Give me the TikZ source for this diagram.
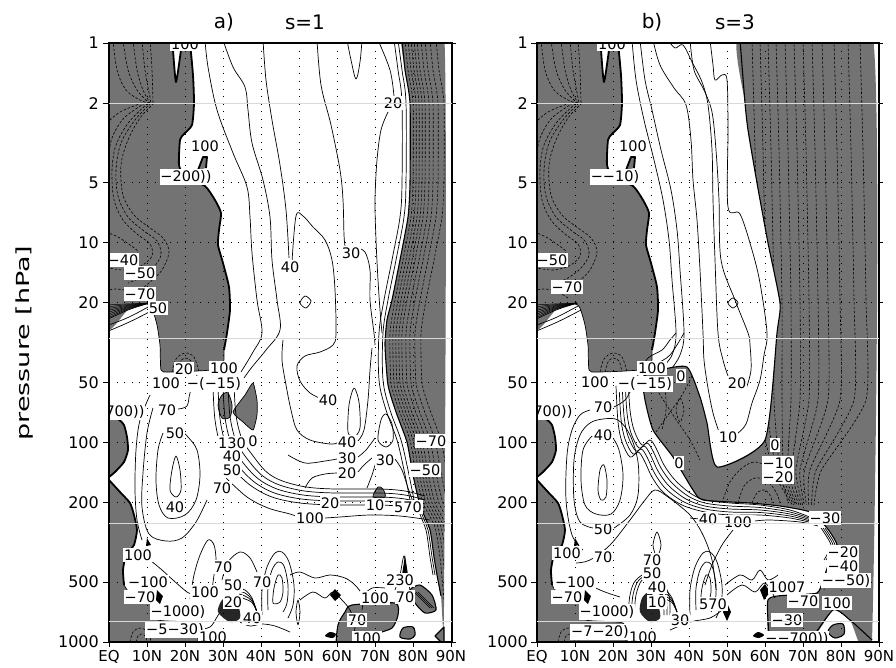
\documentclass[tikz,border=0pt]{standalone}
\usepackage{fontspec}
\setmainfont{DejaVu Sans}
\usepackage{graphicx}
\definecolor{grayfill}{RGB}{115,115,115}
\tikzset{
 cl/.style={line width=0.7pt, line join=round},
 dl/.style={line width=0.6pt, dash pattern=on 2.5pt off 1.8pt},
 zl/.style={line width=1.8pt, line join=round},
 bl/.style={line width=1.1pt, line join=round},
 grd/.style={line width=1pt, dash pattern=on 1pt off 6.6pt},
 lab/.style={fill=white, inner xsep=0.8pt, inner ysep=1.5pt, font=\fontsize{14.5}{14.5}\selectfont},
 tlab/.style={font=\fontsize{16}{16}\selectfont, inner sep=0pt},
 xlab/.style={font=\fontsize{15}{15}\selectfont, inner sep=0pt},
 ttl/.style={font=\fontsize{20}{20}\selectfont, inner sep=0pt},
 frm/.style={line width=1.3pt},
 sm/.style={smooth, tension=0.55},
 sh/.style={smooth, tension=0.35},
 gf/.style={fill=grayfill},
}
\def\pLU{plot[smooth cycle, tension=0.35] coordinates {(100,30) (172,30) (173,50) (176,82) (181,50) (182,30) (190,30) (193,75) (194,103) (192,125) (184,134) (180,140) (179,165) (185,177) (205,186) (215,200) (221,213) (219,230) (218,245) (223,263) (229,287) (230,310) (227,333) (224,350) (222,368) (197,371) (168,372) (161,370) (160,345) (157,325) (152,308) (147,304) (128,310) (100,322)}}
\def\pLS{plot[smooth cycle,tension=0.4] coordinates {(100,417)(118,419)(124,425)(127,437)(128,450)(124,462)(115,472)(100,478)}}
\def\pLL{plot[smooth cycle,tension=0.35] coordinates {(100,478)(109,480)(120,492)(130,503)(134,515)(137,530)(134,545)(126,555)(123,570)(124,585)(135,600)(155,605)(158,620)(195,623)(198,650)(100,650)}}
\newcommand\leftparts{%
 \fill[gf] \pLU; \fill[gf] \pLS; \fill[gf] \pLL;
 \begin{scope}
  \clip \pLU;
  \draw[dl] plot[sm] coordinates {(113,40)(117,70)(126,90)(140,100)(149,103)};
  \draw[dl] plot[sm] coordinates {(123,40)(128,70)(137,90)(149,103)};
  \draw[dl] plot[sm] coordinates {(133,40)(137,70)(143,90)(150,103)};
  \draw[dl] plot[sm] coordinates {(142,40)(145,70)(151,103)};
  \draw[dl] plot[sm] coordinates {(150,40)(152,70)(153,103)};
  \draw[dl] plot[sm] coordinates {(154,103)(140,118)(128,140)(121,165)(123,195)(134,215)(150,228)(163,238)(169,252)(162,270)(150,282)(138,292)};
  \draw[dl] plot[sm] coordinates {(151,103)(135,120)(121,143)(116,170)(118,196)(128,217)(144,231)(157,241)(161,255)(153,268)(140,278)(128,283)};
  \draw[dl] plot[sm] coordinates {(148,103)(129,122)(116,145)(112,170)(114,200)(123,220)(137,234)(150,244)(152,256)(141,266)(125,270)(109,268)};
  \draw[dl] plot[sm] coordinates {(145,103)(124,118)(112,138)(108,160)};
  \draw[dl] plot[sm] coordinates {(142,103)(120,112)(106,124)};
  \draw[dl] plot[sm] coordinates {(106,232)(118,237)(130,245)(138,252)(130,258)(110,257)};
  \draw[dl] plot[sm] coordinates {(140,298)(128,291)(115,289)(105,291)};
  \draw[dl] plot[sm] coordinates {(172,372)(176,359)(185,353)(194,357)(199,372)};
  \draw[dl] plot[sm] coordinates {(177,372)(180,362)(185,358)(191,361)(194,372)};
  \foreach \k in {0,...,7} \draw[line width=0.5pt] (106,{305+\k*2}) .. controls (125,{304+\k*0.8}) .. (149,303);
 \end{scope}
 \draw[zl] plot[sh] coordinates {(173,43)(173,50)(176,82)(181,50)(182,43)};
 \draw[zl] plot[sh] coordinates {(190,43)(193,75)(194,103)(192,125)(184,134)(180,140)(179,165)(185,177)(205,186)(215,200)(221,213)(219,230)(218,245)(223,263)(229,287)(230,310)(227,333)(224,350)};
 \draw[cl] plot[sh] coordinates {(224,350)(222,368)(197,371)(168,372)(161,370)(160,345)(157,325)(152,308)(147,304)(128,310)(106,320)};
 \draw[cl] (106,326) .. controls (128,318) .. (150,306);
 \draw[cl] (106,332) .. controls (130,322) .. (153,310);
 \draw[zl,gf] (198,170)--(203,157)--(207,157)--(206,168);
 \draw[zl] plot[sh] coordinates {(109,417)(118,419)(124,425)(127,437)(128,450)(124,462)(115,472)(109,477)};
 \draw[zl] plot[sh] coordinates {(109,480)(120,492)(130,503)(134,515)(137,530)(134,545)(126,555)(123,570)(124,585)};
 \draw[cl] plot[sh] coordinates {(124,585)(135,600)(155,605)(158,620)(195,623)(198,642)};
 \fill[black] (157,590)--(163,596)--(160,604)--(156,600)--cycle;
 \fill[black] (147,538)--(151,545)--(146,546)--cycle;
 \draw[dl] plot[sm] coordinates {(130,642)(133,632)(140,628)(148,632)(151,642)};
 \draw[dl] plot[sm] coordinates {(136,642)(138,636)(142,634)(146,637)(147,642)};
}
\def\pRa{plot[smooth cycle,tension=0.35] coordinates {(444,30)(444,606)(441,596)(437,575)(434,557)(430,530)(420,505)(413,475)(407,442)(396,412)(388,385)(385,345)(387,320)(392,300)(400,260)(408,217)(410,183)(410,103)(405,70)(402,30)}}
\def\pRb{plot[smooth cycle,tension=0.3] coordinates {(740,30)(872,30)(872,640)(850,620)(833,610)(807,646)(770,646)(768,600)(790,595)(817,593)(823,580)(830,560)(837,545)(827,528)(810,512)(780,506)(750,503)(703,500)(693,490)(673,457)(653,430)(645,400)(643,377)(660,370)(687,367)(700,397)(707,423)(717,467)(765,440)(777,333)(780,303)(768,243)(757,183)(748,130)(745,103)}}
\begin{document}
\begin{tikzpicture}[x=1pt,y=-1pt]
\useasboundingbox (0,0) rectangle (896,667);
\fill[white] (0,0) rectangle (896,667);
% ================= PANEL A =================
\begin{scope}
\clip (109,43) rectangle (452,642);
\leftparts
\fill[gf] \pRa;
\begin{scope}
 \clip \pRa;
 \foreach \d in {3,6,9,12,15,19,23,28,34}
  \draw[dl] plot[sh] coordinates {({402+\d},40)({405+\d},70)({410+\d},103)({410+\d},183)({408+\d},217)({400+\d},260)({392+\d},300)({387+\d},333)({388+\d},383)({396+\d},410)({407+\d},440)({413+\d},473)({420+\d},503)({432+\d},527)({437+\d},557)({441+\d},600)};
\end{scope}
\draw[bl] plot[sh] coordinates {(441,596)(437,575)(434,557)(430,530)(420,505)(413,475)(407,442)(396,412)(388,385)(385,345)(387,320)(392,300)(400,260)(408,217)(410,183)(410,103)(405,70)(402,40)};
\foreach \d in {2,4} \draw[cl] plot[sh] coordinates {({437-\d},575)({434-\d},557)({430-\d},530)({420-\d},505)};
% blobs
\draw[cl,gf] plot[smooth cycle,tension=0.5] coordinates {(218,405)(222,395)(228,393)(232,405)(230,417)(222,418)};
\draw[cl,gf] plot[smooth cycle,tension=0.3] coordinates {(233,412)(245,395)(253,383)(257,400)(257,415)(253,430)(243,422)};
\draw[cl,gf] plot[smooth cycle,tension=0.5] coordinates {(373,497)(378,487)(383,489)(385,497)};
\draw[bl,gf] plot[smooth cycle,tension=0.4] coordinates {(338,648)(338,625)(345,612)(352,605)(395,603)(398,615)(392,628)(375,635)(370,648)};
\draw[bl,gf] plot[smooth cycle,tension=0.5] coordinates {(400,637)(403,628)(413,627)(415,635)(410,639)};
\draw[bl,gf] (435,636)--(444,627)--(444,645)--cycle;
\fill[black] plot[smooth cycle] coordinates {(325,636)(330,632)(336,634)(333,638)};
\draw[bl,gf] plot[smooth cycle,tension=0.4] coordinates {(410,590)(420,585)(432,595)(436,610)(425,613)(415,603)};
\foreach \d in {0,2,4} \draw[cl] ({414+\d},592) -- ({430+\d},608);
\fill[black] (330,595)--(335,589)--(341,595)--(335,601)--cycle;
% upper solid contours
\draw[cl] plot[sm] coordinates {(205,40)(208,67)(217,110)(233,153)(247,187)(250,217)(252,253)(257,300)(262,333)(253,352)(241,372)};
\draw[cl] plot[sm] coordinates {(223,40)(233,67)(245,87)(248,110)(252,143)(263,180)(270,217)(272,260)(277,300)(280,330)(266,350)(252,367)(244,378)};
\draw[cl] plot[sm] coordinates {(263,40)(266,80)(272,120)(280,165)(286,210)(289,258)};
\draw[cl] plot[sm] coordinates {(292,262)(296,216)(303,216)(313,227)(325,240)(332,260)(335,290)(336,333)(333,345)(320,352)(305,356)(297,366)(300,381)(310,393)(322,399)};
\draw[cl] plot[sm] coordinates {(317,40)(321,85)(331,125)(340,170)(343,200)(344,235)(345,246)};
\draw[cl] plot[sm] coordinates {(357,248)(365,252)(370,270)(370,300)(374,333)(375,345)};
\draw[cl] plot[sm] coordinates {(347,40)(351,60)(356,79)(360,62)(362,40)};
\draw[cl] plot[sm] coordinates {(378,40)(390,70)(394,96)};
\draw[cl] plot[sm] coordinates {(388,112)(381,130)(377,160)(375,200)(376,240)(378,280)(380,310)(382,333)};
\draw[cl] plot[sm] coordinates {(398,40)(402,70)(406,103)(406,183)(404,217)(396,260)(388,300)(383,333)(383,380)(390,410)(401,440)(408,470)(414,500)};
\draw[cl] plot[sm] coordinates {(394,40)(398,70)(402,103)(402,183)(400,217)(392,260)(384,300)(379,333)(379,380)(386,410)(397,440)(404,470)(410,500)};
\draw[cl] plot[smooth cycle] coordinates {(300,303)(305,296)(311,301)(306,308)};
% middle dense lines
\foreach \dx/\dy in {0/0,5/-4,10/-8,15/-12,21/-16}
 \draw[cl] plot[sm] coordinates {({213+\dx},{387+\dy*0.2})({215+\dx},{420+\dy*0.3})({221+\dx},{447+\dy*0.5})({232+\dx},{467+\dy*0.7})({250+\dx*0.8},{485+\dy*0.8})({272+\dx*0.5},{497+\dy})({300+\dx*0.3},{503+\dy})({335},{505+\dy})({380},{505+\dy})({405},{507+\dy})({425},{512+\dy})};
\draw[cl] plot[sm] coordinates {(226,478)(247,497)(268,508)(290,514)(298,517)};
\draw[cl] plot[sm] coordinates {(325,518)(340,517)(370,515)(400,516)(430,520)};
\draw[cl] plot[sm] coordinates {(283,340)(282,360)(286,385)(291,410)(297,430)(310,440)(330,444)(337,443)};
\draw[cl] plot[sm] coordinates {(358,441)(364,430)(368,400)(370,370)(372,348)};
\draw[cl] plot[sm] coordinates {(288,455)(305,463)(325,461)(337,459)};
\draw[cl] plot[sm] coordinates {(358,457)(366,450)(375,438)};
\draw[cl] plot[sm] coordinates {(305,488)(312,478)(325,474)(337,473)};
\draw[cl] plot[sm] coordinates {(358,472)(364,465)(372,458)};
\draw[cl] plot[smooth cycle] coordinates {(348,432)(349,405)(354,388)(359,402)(360,428)(354,437)};
\draw[cl] plot[smooth cycle] coordinates {(378,440)(381,420)(386,414)(392,424)(393,440)(386,447)};
\fill (386,442) circle (1.2);
\draw[cl] plot[sm] coordinates {(367,488)(372,475)(375,465)};
\draw[cl] plot[sm] coordinates {(395,459)(402,470)(408,488)(413,502)};
% left lower loops
\draw[cl] plot[sm] coordinates {(153,408)(147,433)(143,473)(142,507)(149,534)(166,541)(182,538)(196,522)(207,500)};
\draw[cl] plot[sm] coordinates {(178,409)(187,406)(190,393)(197,375)};
\draw[cl] plot[sm] coordinates {(163,433)(158,450)(156,480)(159,505)(168,518)(185,515)(196,500)(200,475)(197,450)(188,437)(184,433)};
\draw[cl] plot[smooth cycle] coordinates {(170,490)(172,470)(176,456)(180,470)(181,490)(176,497)};
\draw[cl] plot[sm] coordinates {(150,395)(140,420)(136,450)(135,490)(137,520)(142,540)};
\draw[cl] plot[sm] coordinates {(150,560)(162,570)(173,580)(187,592)(193,594)};
\draw[cl] plot[sm] coordinates {(190,599)(194,575)(200,555)(208,540)(214,545)(216,560)(214,575)(212,590)};
\draw[cl] plot[sm] coordinates {(222,580)(228,562)(240,552)(250,558)(257,572)};
\draw[cl] plot[sm] coordinates {(197,630)(210,627)(217,617)(223,607)};
% 45N nested
\draw[cl] plot[sm] coordinates {(262,615)(262,590)(267,567)(275,553)(282,552)(289,562)(294,585)(293,605)(288,618)};
\draw[cl] plot[sm] coordinates {(268,610)(268,588)(272,570)(278,562)(284,566)(288,585)(287,603)(283,612)};
\draw[cl] plot[smooth cycle] coordinates {(273,603)(274,588)(278,575)(282,578)(283,592)(280,602)};
\foreach \k in {0,3,6,9} \draw[cl] plot[sm] coordinates {({236+\k*0.5},{588+\k})({245},{590+\k})({252},{598+\k*0.5})({257},{612})};
\fill[black!85] plot[smooth cycle] coordinates {(218,612)(222,600)(230,597)(238,605)(240,618)(230,622)};
\draw[cl] plot[sm] coordinates {(240,622)(250,626)(262,624)(275,626)(290,632)};
% bottom right lines
\draw[cl] plot[sm] coordinates {(290,575)(300,572)(315,578)(330,575)(345,578)(355,585)(363,595)};
\draw[cl] plot[sm] coordinates {(300,600)(313,592)(325,598)(333,592)(342,600)(350,610)(355,625)(352,642)};
\draw[cl] plot[smooth cycle] coordinates {(298,600)(300,612)(298,625)(296,612)};
\draw[cl] plot[sm] coordinates {(362,610)(365,595)(372,588)(385,588)};
\fill[black] (402,575)--(405,555)--(408,575)--cycle;
\draw[cl] plot[sm] coordinates {(395,590)(400,575)(404,556)(407,575)(410,590)};
% grid
\foreach \x in {147,185,223,261,299,337,375,413} \draw[grd] (\x,43) -- (\x,642);
\foreach \y in {103.1,182.6,242.7,302.8,382.3,442.4,502.5,582.0} \draw[grd] (109,\y) -- (452,\y);
% labels
\node[lab] (a01) at (185,44) {100};
\node[lab] (a02) at (205,146) {100};
\node[lab] (a03) at (186,177) {−200))};
\node[lab] (a04) at (123,260) {−40};
\node[lab] (a05) at (140,273) {−50};
\node[lab] (a06) at (140,294) {−70};
\node[lab] (a07) at (158,308) {50};
\node[lab] (a08) at (290,267) {40};
\node[lab] (a09) at (351,253) {30};
\node[lab] (a10) at (393,103) {20};
\node[lab] (a11) at (184,369) {20};
\node[lab] (a12) at (224,368) {100};
\node[lab] (a13) at (166,383) {100};
\node[lab] (a14) at (214,384) {−(−15)};
\node[lab] (a15) at (125,412) {700))};
\node[lab] (a16) at (167,410) {70};
\node[lab] (a17) at (175,433) {50};
\node[lab] (a18) at (232,443) {130};
\node[lab] (a19) at (253,441) {0};
\node[lab] (a20) at (232,456) {40};
\node[lab] (a21) at (232,470) {50};
\node[lab] (a22) at (222,488) {70};
\node[lab] (a23) at (175,507) {40};
\node[lab] (a24) at (328,400) {40};
\node[lab] (a25) at (347,442) {40};
\node[lab] (a26) at (347,458) {30};
\node[lab] (a27) at (347,473) {20};
\node[lab] (a28) at (385,460) {30};
\node[lab] (a29) at (431,441) {−70};
\node[lab] (a30) at (425,470) {−50};
\node[lab] (a31) at (330,503) {20};
\node[lab] (a32) at (375,505) {10};
\node[lab] (a33) at (408,507) {570};
\node[lab] (a34) at (310,518) {100};
\node[lab] (a35) at (138,555) {100};
\node[lab] (a36) at (148,582) {−100};
\node[lab] (a37) at (140,597) {−70};
\node[lab] (a38) at (205,592) {100};
\node[lab] (a39) at (223,567) {70};
\node[lab] (a40) at (233,585) {50};
\node[lab] (a41) at (262,582) {70};
\node[lab] (a42) at (233,602) {20};
\node[lab] (a43) at (252,618) {40};
\node[lab] (a44) at (178,612) {−1000)};
\node[lab] (a45) at (175,630) {−5−30)};
\node[lab] (a46) at (213,637) {100};
\node[lab] (a47) at (400,580) {230};
\node[lab] (a48) at (375,598) {100};
\node[lab] (a49) at (405,597) {70};
\node[lab] (a50) at (357,620) {70};
\node[lab] (a51) at (367,638) {100};
\end{scope}
\draw[frm] (109,43) rectangle (452,642);
% ================= PANEL B =================
\begin{scope}
\clip (537,43) rectangle (879,642);
\begin{scope}[xshift=428pt]
\leftparts
\end{scope}
\fill[gf] \pRb;
\begin{scope}
 \clip \pRb;
 \foreach \a in {752,760,768,776,785,794,803,812,822,834,848,860}
  \draw[dl] plot[sh] coordinates {(\a,40)({\a+3},150)({\a+6},300)({\a+6},400)({790+(\a-790)*0.45},470)({800+(\a-790)*0.2},505)};
 \draw[dl] plot[sm] coordinates {(722,503)(730,482)(742,468)(755,462)(770,468)(782,482)(788,503)};
 \draw[dl] plot[sm] coordinates {(738,503)(744,486)(755,478)(767,481)(776,492)(780,503)};
 \draw[dl] plot[sm] coordinates {(752,503)(757,493)(765,490)(771,497)(772,503)};
 \draw[dl] plot[sm] coordinates {(650,378)(662,398)(675,418)(690,440)(700,460)};
 \draw[dl] plot[sm] coordinates {(692,376)(682,395)(668,415)(656,432)};
 \draw[dl] plot[smooth cycle] coordinates {(676,410)(680,398)(684,410)(680,422)};
 \draw[dl] plot[sm] coordinates {(660,376)(665,390)(666,410)(662,430)};
 \draw[dl] plot[sm] coordinates {(820,560)(826,575)(824,590)};
\end{scope}
\draw[bl] plot[sh] coordinates {(872,640)(850,620)(833,610)(807,646)};
\draw[bl] plot[sh] coordinates {(770,646)(768,600)(790,595)(817,593)(823,580)(830,560)(837,545)(827,528)(810,512)(780,506)(750,503)(703,500)(693,490)(673,457)(653,430)(645,400)(643,377)(660,370)(687,367)(700,397)(707,423)(717,467)(765,440)(777,333)(780,303)(768,243)(757,183)(748,130)(745,103)(740,40)};
\draw[bl,gf] plot[smooth cycle,tension=0.5] coordinates {(828,632)(833,625)(843,624)(844,634)(835,638)};
\fill[black] plot[smooth cycle] coordinates {(753,636)(758,632)(764,635)(759,638)};
\foreach \d in {2,4,6} \draw[cl] plot[sh] coordinates {({827-\d},528)({837-\d},545)({830-\d},560)};
% upper solid lines b
\draw[cl] plot[sm] coordinates {(632,40)(636,80)(644,120)(654,160)(663,200)(669,240)(672,280)(676,333)(672,355)(662,368)};
\draw[cl] plot[sm] coordinates {(640,40)(645,80)(652,110)(661,150)(671,190)(677,230)(680,270)(684,333)(680,355)(672,368)};
\draw[cl] plot[sm] coordinates {(653,40)(660,65)(674,88)(686,105)(691,140)(693,180)(697,220)(700,270)(703,333)(704,360)(708,388)(713,413)(719,432)};
\draw[cl] plot[sm] coordinates {(738,433)(746,424)(752,403)(760,380)(764,355)(767,333)(760,283)(752,250)(740,214)(728,207)(728,130)(727,80)(722,75)(715,80)(713,65)(710,40)};
\draw[cl] plot[sm] coordinates {(668,40)(675,48)(683,45)(692,62)(702,82)(708,105)(712,150)(713,200)(715,260)(718,333)(723,360)(728,376)};
\draw[cl] plot[sm] coordinates {(746,389)(751,370)(750,345)(748,333)(735,300)(721,260)(719,200)(716,150)(712,112)(704,90)(694,70)(690,40)};
\draw[cl] plot[smooth cycle] coordinates {(728,303)(733,298)(738,303)(733,308)};
% middle diagonal family b
\foreach \k in {0,1,2,3,4}
 \draw[cl] plot[sm] coordinates {({628-3*\k},{378+2*\k})({630-3*\k},{410+3*\k})({634-3*\k},{430+3*\k})({642-3*\k},{445+3*\k})({650-3*\k},{440+3*\k})({656-3*\k},{448+3*\k})({664-3*\k},{465+3*\k})({675-3*\k},{480+3*\k})({690-2*\k},{493+3*\k})({705},{500+3*\k})({730},{503+3*\k})({760},{505+2.5*\k})({790},{510+2*\k})({812},{518+1.2*\k})};
\draw[cl] plot[sm] coordinates {(640,372)(648,358)(662,350)(670,340)(676,333)};
\draw[cl] plot[sm] coordinates {(645,376)(655,365)(670,355)(684,333)};
\draw[cl] plot[sm] coordinates {(690,518)(700,519)};
\draw[cl] plot[sm] coordinates {(755,521)(770,520)(800,522)(818,526)};
% left loops b
\draw[cl] plot[sm] coordinates {(590,410)(580,415)(572,430)(567,455)(566,500)(572,535)(583,550)};
\draw[cl] plot[sm] coordinates {(614,407)(625,400)(632,388)(638,375)};
\draw[cl] plot[sm] coordinates {(592,436)(583,450)(581,480)(585,505)(596,514)(611,514)(620,500)(623,475)(619,450)(613,438)};
\draw[cl] plot[sm] coordinates {(593,528)(580,522)(574,500)(574,460)(580,435)(590,423)(603,419)(618,420)(630,435)(638,462)(638,495)(630,515)(614,528)};
\draw[cl] plot[smooth cycle] coordinates {(598,490)(600,470)(604,465)(607,480)(606,497)(601,500)};
\draw[cl] plot[sm] coordinates {(576,563)(590,560)(610,545)(630,520)(645,500)(655,490)(668,497)(690,515)(703,535)(712,560)(716,590)};
\draw[cl] plot[sm] coordinates {(733,530)(722,545)(712,565)(705,585)};
\draw[cl] plot[sm] coordinates {(578,575)(590,585)(605,592)(620,597)};
\draw[cl] plot[smooth cycle] coordinates {(653,545)(657,532)(661,545)(657,557)};
% lower b
\begin{scope}[xshift=428pt]
\draw[cl] plot[sm] coordinates {(262,615)(262,590)(267,567)(275,553)(282,552)(289,562)(294,585)(293,605)(288,618)};
\draw[cl] plot[sm] coordinates {(268,610)(268,588)(272,570)(278,562)(284,566)(288,585)(287,603)(283,612)};
\draw[cl] plot[smooth cycle] coordinates {(273,603)(274,588)(278,575)(282,578)(283,592)(280,602)};
\end{scope}
\begin{scope}[xshift=420pt]
\foreach \k in {0,3,6,9} \draw[cl] plot[sm] coordinates {({236+\k*0.5},{588+\k})({245},{590+\k})({252},{598+\k*0.5})({257},{612})};
\fill[black!85] plot[smooth cycle] coordinates {(220,612)(222,598)(230,592)(238,605)(240,618)(230,622)};
\foreach \k in {0,3,6} \draw[cl] plot[sm] coordinates {({214-\k},618)({216-\k},595)({222-\k},580)({232},{578-\k})({242+\k},592)({244+\k},615)};
\end{scope}
\fill[black] (723,612)--(727,603)--(731,612)--(727,621)--cycle;
\draw[cl] plot[sm] coordinates {(725,585)(740,575)(752,580)(760,570)(768,580)(778,575)};
\draw[cl] plot[sm] coordinates {(727,595)(742,585)(755,592)(765,583)(775,598)};
\fill[black] (760,590)--(765,584)--(770,592)--(764,600)--cycle;
\draw[cl] plot[sm] coordinates {(670,630)(690,622)(710,618)(722,610)};
% grid b
\foreach \x in {575,613,651,689,727,765,803,841} \draw[grd] (\x,43) -- (\x,642);
\foreach \y in {103.1,182.6,242.7,302.8,382.3,442.4,502.5,582.0} \draw[grd] (537,\y) -- (879,\y);
% labels b
\node[lab] (b01) at (612,44) {100};
\node[lab] (b02) at (633,146) {100};
\node[lab] (b03) at (615,177) {−−10)};
\node[lab] (b04) at (552,260) {−50};
\node[lab] (b05) at (567,287) {−70};
\node[lab] (b06) at (652,368) {100};
\node[lab] (b07) at (681,376) {0};
\node[lab] (b08) at (595,382) {100};
\node[lab] (b09) at (645,384) {−(−15)};
\node[lab] (b10) at (737,383) {20};
\node[lab] (b11) at (553,412) {700))};
\node[lab] (b12) at (603,407) {70};
\node[lab] (b13) at (603,435) {40};
\node[lab] (b14) at (728,437) {10};
\node[lab] (b15) at (775,445) {0};
\node[lab] (b16) at (679,463) {0};
\node[lab] (b17) at (778,463) {−10};
\node[lab] (b18) at (778,477) {−20};
\node[lab] (b19) at (708,519) {40};
\node[lab] (b20) at (738,522) {100};
\node[lab] (b21) at (825,518) {−30};
\node[lab] (b22) at (603,529) {50};
\node[lab] (b23) at (567,553) {100};
\node[lab] (b24) at (603,557) {70};
\node[lab] (b25) at (652,560) {70};
\node[lab] (b26) at (652,573) {50};
\node[lab] (b27) at (657,587) {40};
\node[lab] (b28) at (657,602) {10};
\node[lab] (b29) at (575,582) {−100};
\node[lab] (b30) at (567,597) {−70};
\node[lab] (b31) at (713,604) {570};
\node[lab] (b32) at (680,620) {30};
\node[lab] (b33) at (607,612) {−1000)};
\node[lab] (b34) at (600,632) {−7−20)};
\node[lab] (b35) at (643,637) {100};
\node[lab] (b36) at (843,552) {−20};
\node[lab] (b37) at (843,566) {−40};
\node[lab] (b38) at (846,580.5) {−−50)};
\node[lab] (b39) at (787,587) {1007};
\node[lab] (b40) at (803,601) {−70};
\node[lab] (b41) at (837,603) {100};
\node[lab] (b42) at (787,620) {−30};
\node[lab] (b43) at (797,639) {−−700))};
\end{scope}
\draw[frm] (537,43) rectangle (879,642);
% faint resampling lines
\foreach \y in {103,338,523,621} { \draw[white!70!gray, line width=0.6pt] (109,\y) -- (452,\y); \draw[white!70!gray, line width=0.6pt] (537,\y) -- (879,\y); }
% axes
\foreach \p/\y in {1/43,2/103.1,5/182.6,10/242.7,20/302.8,50/382.3,100/442.4,200/502.5,500/582.0,1000/642.1} {
 \node[tlab, anchor=east] (pa\p) at (99,\y) {\p};
 \node[tlab, anchor=east] (pb\p) at (528,\y) {\p};
 \draw[line width=1pt] (103,\y) -- (109,\y);
 \draw[line width=1pt] (531,\y) -- (537,\y);
 \draw[line width=1pt] (452,\y) -- (456,\y);
 \draw[line width=1pt] (879,\y) -- (883,\y);
}
\foreach \i/\t in {0/EQ,1/10N,2/20N,3/30N,4/40N,5/50N,6/60N,7/70N,8/80N,9/90N} {
 \node[xlab] (xa\i) at ({109+38*\i},656.5) {\t};
 \node[xlab] (xb\i) at ({537+38*\i},656.5) {\t};
 \draw[line width=1pt] ({109+38*\i},642) -- ({109+38*\i},647);
 \draw[line width=1pt] ({537+38*\i},642) -- ({537+38*\i},647);
}
\node[ttl] (ta1) at (224,22) {a)};
\node[ttl] (ta2) at (305,22) {s=1};
\node[ttl] (tb1) at (652,22) {b)};
\node[ttl] (tb2) at (735,22) {s=3};
\node[rotate=90, font=\fontsize{18}{18}\selectfont] (ylab) at (25,343) {\scalebox{1.5}[1]{pressure [hPa]}};
\end{tikzpicture}
\end{document}
